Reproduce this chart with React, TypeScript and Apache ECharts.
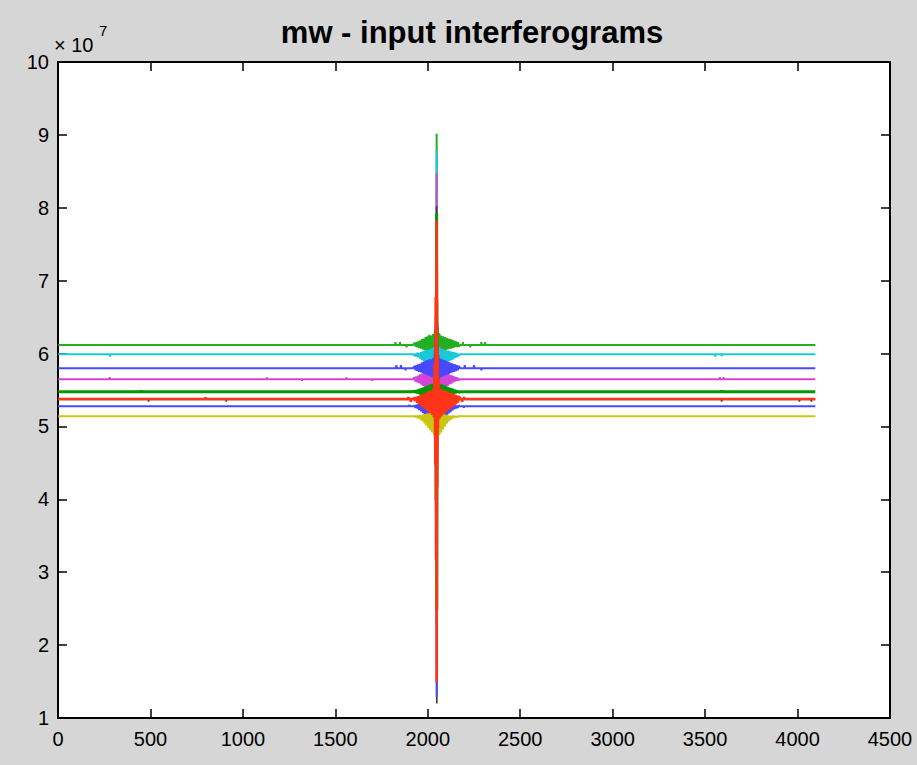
import React, { useEffect, useRef } from "react";
import * as echarts from "echarts";

// Values in units of 1e7 (axis shows "× 10^7")
const titleText = "mw - input interferograms";
const xTicks = { min: 0, max: 4500, step: 500 };
const yTicks = { min: 1, max: 10, step: 1 };
const firstIndex = 1;
const lastIndex = 4096;
const centerIndex = 2048;

// sample offsets from the centre burst (shared by all traces)
const burstOffsets = [
  -120, -115, -110, -105, -100, -95, -90, -85, -80, -75, -70, -65, -60, -55, -50, -45, -40, -35, -30, -25, -20, -15, -10,
  -7, -5, -3, -1, 0, 1, 3, 5, 7,
  10, 15, 20, 25, 30, 35, 40, 45, 50, 55, 60, 65, 70, 75, 80, 85, 90, 95, 100, 105, 110, 115, 120,
];

const seriesNames = ["trace 1", "trace 2", "trace 3", "trace 4", "trace 5", "trace 6", "trace 7", "trace 8", "trace 9"];
const baselines = [6.117, 5.99, 5.646, 5.37, 5.8, 5.276, 5.139, 5.476, 5.376];

const burstGreenTop = [
  0.03, -0.02, 0.04, -0.03, 0.05, -0.04, 0.06, -0.05, 0.08, -0.06, 0.09, -0.07, 0.11, -0.08, 0.12, -0.09, 0.14, -0.1, 0.13, -0.11, 0.15, -0.12, 0.2,
  -0.2, 0.4, -0.5, 1.15, 2.9, -2.6, 0.6, -0.3, 0.25,
  -0.15, 0.16, -0.1, 0.13, -0.09, 0.12, -0.08, 0.11, -0.07, 0.1, -0.06, 0.09, -0.05, 0.08, -0.05, 0.07, -0.04, 0.06, -0.03, 0.05, -0.03, 0.04, -0.02,
];
const burstCyan = [
  -0.02, 0.01, -0.03, 0.02, -0.04, 0.02, -0.06, 0.03, -0.08, 0.04, -0.09, 0.05, -0.11, 0.06, -0.12, 0.06, -0.13, 0.07, -0.13, 0.08, -0.14, 0.1, -0.2,
  0.25, -0.4, 0.5, -0.6, 2.8, -2.4, 0.5, -0.3, 0.2,
  -0.15, 0.1, -0.14, 0.08, -0.13, 0.07, -0.12, 0.06, -0.11, 0.05, -0.1, 0.05, -0.09, 0.04, -0.08, 0.03, -0.07, 0.03, -0.05, 0.02, -0.04, 0.01, -0.02,
];
const burstMagenta = [
  0.03, -0.03, 0.04, -0.04, 0.05, -0.05, 0.07, -0.07, 0.08, -0.09, 0.1, -0.1, 0.12, -0.12, 0.13, -0.14, 0.15, -0.15, 0.16, -0.17, 0.18, -0.2, 0.25,
  -0.35, 0.5, -0.8, 0.9, 2.83, -2.2, 0.8, -0.4, 0.3,
  -0.2, 0.17, -0.16, 0.15, -0.14, 0.13, -0.12, 0.11, -0.1, 0.09, -0.09, 0.08, -0.07, 0.06, -0.06, 0.05, -0.04, 0.04, -0.03, 0.03, -0.02, 0.02, -0.01,
];
const burstGray = [
  0.01, -0.01, 0.01, -0.02, 0.02, -0.02, 0.03, -0.03, 0.03, -0.04, 0.04, -0.04, 0.05, -0.05, 0.05, -0.06, 0.06, -0.07, 0.07, -0.08, 0.08, -0.1, 0.15,
  -0.3, 0.6, -1.2, 1.0, 2.65, -4.17, 1.0, -0.5, 0.25,
  -0.1, 0.08, -0.08, 0.07, -0.07, 0.06, -0.06, 0.05, -0.05, 0.04, -0.04, 0.04, -0.03, 0.03, -0.03, 0.02, -0.02, 0.02, -0.01, 0.01, -0.01, 0.01, 0,
];
const burstBlue1 = [
  0.03, -0.03, 0.04, -0.04, 0.05, -0.05, 0.06, -0.06, 0.08, -0.07, 0.09, -0.08, 0.1, -0.09, 0.11, -0.1, 0.12, -0.11, 0.12, -0.12, 0.14, -0.15, 0.25,
  -0.3, 0.6, -0.8, 1.6, -4.51, 1.2, -0.5, 0.3, -0.25,
  0.18, -0.14, 0.13, -0.12, 0.12, -0.11, 0.11, -0.1, 0.1, -0.09, 0.09, -0.08, 0.08, -0.07, 0.07, -0.06, 0.06, -0.05, 0.05, -0.04, 0.04, -0.03, 0.03,
];
const burstBlue2 = [
  0.01, -0.02, 0.02, -0.03, 0.03, -0.05, 0.04, -0.07, 0.05, -0.09, 0.05, -0.11, 0.06, -0.14, 0.07, -0.17, 0.08, -0.2, 0.08, -0.23, 0.09, -0.27, 0.3,
  -0.6, 0.9, -1.4, 1.9, -3.0, 0.8, -0.7, 0.2, -0.33,
  0.09, -0.3, 0.08, -0.25, 0.07, -0.2, 0.06, -0.16, 0.05, -0.13, 0.05, -0.1, 0.04, -0.08, 0.03, -0.06, 0.03, -0.04, 0.02, -0.03, 0.01, -0.02, 0.01,
];
const burstYellow = [
  0, -0.01, 0.01, -0.02, 0.01, -0.03, 0.02, -0.05, 0.02, -0.07, 0.03, -0.1, 0.03, -0.13, 0.04, -0.16, 0.04, -0.19, 0.05, -0.22, 0.05, -0.26, 0.1,
  -0.33, 0.6, -1.0, 2.2, -2.5, 0.5, -0.71, 0.05, -0.3,
  0.04, -0.26, 0.04, -0.22, 0.03, -0.18, 0.03, -0.14, 0.02, -0.1, 0.02, -0.07, 0.01, -0.05, 0.01, -0.03, 0.01, -0.02, 0, -0.01, 0, -0.01, 0,
];
const burstDarkGreen = [
  0.01, -0.01, 0.02, -0.02, 0.03, -0.03, 0.04, -0.04, 0.05, -0.05, 0.06, -0.06, 0.07, -0.07, 0.08, -0.08, 0.09, -0.09, 0.1, -0.1, 0.11, -0.12, 0.2,
  -0.4, 0.8, -1.5, 0.9, 2.45, -3.0, 0.9, -0.4, 0.2,
  -0.12, 0.11, -0.1, 0.1, -0.09, 0.09, -0.08, 0.08, -0.07, 0.07, -0.06, 0.06, -0.05, 0.05, -0.04, 0.04, -0.03, 0.03, -0.02, 0.02, -0.01, 0.01, -0.01,
];
const burstRed = [
  0.02, -0.03, 0.03, -0.05, 0.04, -0.07, 0.05, -0.09, 0.06, -0.11, 0.07, -0.13, 0.08, -0.15, 0.1, -0.17, 0.11, -0.19, 0.12, -0.22, 0.13, -0.25, 0.5,
  -0.9, 1.4, -2.2, 2.45, -3.89, 1.8, -1.2, 0.7, -0.4,
  0.28, -0.27, 0.14, -0.24, 0.13, -0.21, 0.12, -0.19, 0.11, -0.17, 0.1, -0.15, 0.09, -0.13, 0.08, -0.11, 0.07, -0.09, 0.06, -0.07, 0.05, -0.05, 0.04,
];

// isolated glitches away from the burst: [sample index, deviation]
const spikesGreenTop = [[1825, 0.04], [1850, 0.04], [1885, -0.03], [2190, 0.04], [2230, -0.03], [2290, 0.04], [2310, 0.04]];
const spikesCyan = [[282, -0.03], [3555, -0.03], [3590, -0.025]];
const spikesMagenta = [[280, 0.03], [1130, 0.025], [1320, -0.02], [1560, 0.025], [1700, -0.02], [3580, 0.03], [3600, 0.03]];
const spikesGray = [[490, -0.03], [910, -0.03], [3590, -0.03], [4010, -0.03], [4075, -0.03]];
const spikesBlue1 = [[1830, 0.04], [1855, 0.04], [1880, -0.03], [2200, 0.04], [2250, 0.04], [2290, -0.03]];
const spikesBlue2: number[][] = [[1900, 0.02], [2195, -0.02]];
const spikesYellow: number[][] = [];
const spikesDarkGreen = [[450, 0.02], [3590, 0.02]];
const spikesRed = [[798, 0.025], [1895, 0.03], [1908, -0.04], [2186, -0.04], [2196, 0.03]];

const bursts = [burstGreenTop, burstCyan, burstMagenta, burstGray, burstBlue1, burstBlue2, burstYellow, burstDarkGreen, burstRed];
const spikes = [spikesGreenTop, spikesCyan, spikesMagenta, spikesGray, spikesBlue1, spikesBlue2, spikesYellow, spikesDarkGreen, spikesRed];
const colors = ["#22b022", "#1cc8d8", "#d444d8", "#404040", "#4848ff", "#4848ff", "#c8c810", "#009a00", "#ff3418"];
const widths = [2, 2, 2, 1.6, 2, 2, 2, 3, 2.6];

const FONT = "'Liberation Sans', Arial, Helvetica, sans-serif";

function buildTrace(k: number): number[][] {
  const base = baselines[k];
  const pts: number[][] = [[firstIndex, base]];
  const first = centerIndex + burstOffsets[0];
  const last = centerIndex + burstOffsets[burstOffsets.length - 1];
  const mid: number[][] = [];
  spikes[k].forEach(([i, d]) => {
    mid.push([i - 2, base], [i, base + d], [i + 2, base]);
  });
  mid.push([first - 8, base]);
  burstOffsets.forEach((o, j) => mid.push([centerIndex + o, base + bursts[k][j]]));
  mid.push([last + 8, base]);
  mid.sort((a, b) => a[0] - b[0]);
  pts.push(...mid);
  pts.push([lastIndex, base]);
  return pts;
}

export default function App() {
  const ref = useRef<HTMLDivElement>(null);
  useEffect(() => {
    if (!ref.current) return;
    const chart = echarts.init(ref.current, null, { renderer: "svg" });
    const axisCommon = {
      type: "value" as const,
      axisLine: { show: true, onZero: false, lineStyle: { color: "#000", width: 2 } },
      axisTick: { show: true, inside: true, length: 9, lineStyle: { color: "#000", width: 1.5 } },
      splitLine: { show: false },
    };
    const labelStyle = { color: "#000", fontSize: 20, fontFamily: FONT, formatter: (v: number) => String(v) };
    chart.setOption({
      animation: false,
      backgroundColor: "#d6d6d6",
      title: {
        text: titleText,
        left: 467,
        top: 12,
        textAlign: "center",
        textStyle: { fontSize: 31, fontWeight: "bold", color: "#000", fontFamily: FONT },
      },
      grid: {
        left: 58,
        top: 62,
        right: 27,
        bottom: 47,
        show: true,
        backgroundColor: "#ffffff",
        borderWidth: 0,
      },
      xAxis: [
        { ...axisCommon, position: "bottom", min: xTicks.min, max: xTicks.max, interval: xTicks.step, axisLabel: { ...labelStyle, margin: 11 } },
        { ...axisCommon, position: "top", min: xTicks.min, max: xTicks.max, interval: xTicks.step, axisLabel: { show: false } },
      ],
      yAxis: [
        { ...axisCommon, position: "left", min: yTicks.min, max: yTicks.max, interval: yTicks.step, axisLabel: { ...labelStyle, margin: 9 } },
        { ...axisCommon, position: "right", min: yTicks.min, max: yTicks.max, interval: yTicks.step, axisLabel: { show: false } },
      ],
      graphic: [
        { type: "text", left: 54, top: 35, style: { text: "× 10", fontSize: 20, fontFamily: FONT, fill: "#000" } },
        { type: "text", left: 99, top: 23, style: { text: "7", fontSize: 15, fontFamily: FONT, fill: "#000" } },
      ],
      series: seriesNames.map((name, k) => ({
        name,
        type: "line",
        xAxisIndex: 0,
        yAxisIndex: 0,
        data: buildTrace(k),
        showSymbol: false,
        symbol: "none",
        lineStyle: { color: colors[k], width: widths[k] },
        itemStyle: { color: colors[k] },
        z: 2 + k,
        silent: true,
      })),
    });
    return () => chart.dispose();
  }, []);
  return (
    <div
      ref={ref}
      style={{ position: "absolute", left: 0, top: 0, width: 917, height: 765 }}
    />
  );
}
